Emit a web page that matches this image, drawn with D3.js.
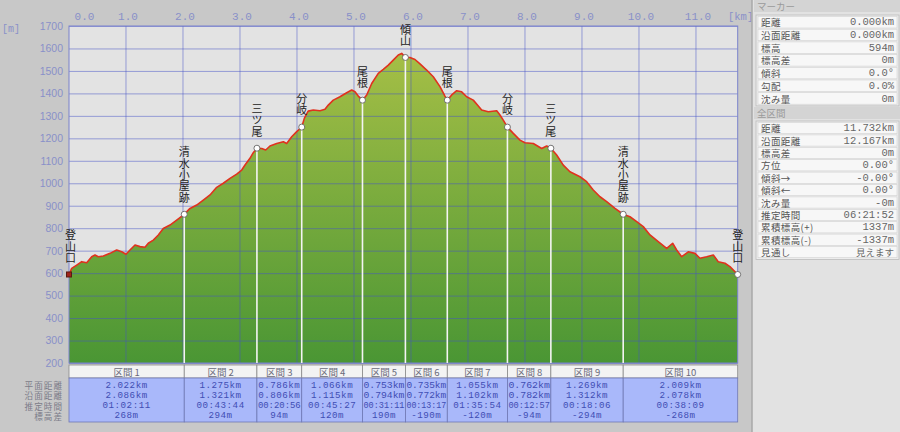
<!DOCTYPE html>
<html><head><meta charset="utf-8">
<script src="https://cdn.jsdelivr.net/npm/d3@7"></script>
<style>html,body{margin:0;padding:0;background:#c8c8c8;overflow:hidden}</style>
</head><body><svg id="c" width="900" height="432"></svg>
<script>
// ---- data ----
const profileKm = [0.000,0.047,0.135,0.223,0.311,0.398,0.456,0.514,0.602,0.719,0.837,0.925,1.000,1.070,1.158,1.246,1.333,1.391,1.479,1.567,1.654,1.772,1.889,2.022,2.123,2.240,2.356,2.474,2.591,2.707,2.825,2.942,3.030,3.088,3.175,3.233,3.297,3.381,3.451,3.526,3.644,3.760,3.819,3.907,3.995,4.083,4.130,4.196,4.286,4.404,4.491,4.549,4.637,4.754,4.872,4.960,5.018,5.075,5.149,5.223,5.311,5.426,5.514,5.602,5.689,5.777,5.837,5.902,5.982,6.070,6.158,6.275,6.391,6.509,6.596,6.637,6.714,6.802,6.889,6.977,7.093,7.181,7.240,7.356,7.504,7.561,7.619,7.692,7.795,7.912,8.000,8.146,8.293,8.381,8.454,8.556,8.672,8.789,8.965,9.082,9.198,9.316,9.433,9.579,9.723,9.842,9.960,10.075,10.193,10.338,10.486,10.591,10.661,10.749,10.865,10.982,11.070,11.188,11.304,11.391,11.509,11.596,11.732];
const profileElev = [594,621,636,651,646,673,681,673,676,688,703,695,684,703,725,718,715,733,747,770,799,814,836,862,888,903,925,948,982,1000,1022,1041,1059,1081,1111,1136,1156,1155,1148,1166,1177,1185,1177,1207,1230,1250,1290,1321,1326,1323,1329,1348,1370,1385,1403,1415,1407,1388,1370,1393,1444,1489,1507,1526,1548,1571,1578,1560,1560,1551,1531,1504,1474,1430,1388,1370,1393,1412,1407,1385,1370,1344,1326,1318,1323,1304,1281,1250,1222,1192,1180,1177,1155,1166,1156,1126,1081,1051,1029,1007,970,940,918,888,862,851,829,807,770,740,710,733,703,673,695,688,666,673,681,651,644,629,594];

const wpNames = ["登山口","清水小屋跡","三ツ尾","分岐","尾根","傾山","尾根","分岐","三ツ尾","清水小屋跡","登山口"];
const wpKm = [0,2.022,3.297,4.083,5.149,5.902,6.637,7.692,8.454,9.723,11.732];
const wpElev = [594,862,1156,1250,1370,1560,1370,1250,1156,862,594];

const xTicks = [0,1,2,3,4,5,6,7,8,9,10,11];
const yTicks = [200,300,400,500,600,700,800,900,1000,1100,1200,1300,1400,1500,1600,1700];

const segLabels = ["区間 1","区間 2","区間 3","区間 4","区間 5","区間 6","区間 7","区間 8","区間 9","区間 10"];
const segFlat = ["2.022km","1.275km","0.786km","1.066km","0.753km","0.735km","1.055km","0.762km","1.269km","2.009km"];
const segSurface = ["2.086km","1.321km","0.806km","1.115km","0.794km","0.772km","1.102km","0.782km","1.312km","2.078km"];
const segTime = ["01:02:11","00:43:44","00:20:56","00:45:27","00:31:11","00:13:17","01:35:54","00:12:57","00:18:06","00:38:09"];
const segDiff = ["268m","294m","94m","120m","190m","-190m","-120m","-94m","-294m","-268m"];
const tableRowLabels = ["平面距離","沿面距離","推定時間","標高差"];

const markerLabels = ["距離","沿面距離","標高","標高差","傾斜","勾配","沈み量"];
const markerValues = ["0.000km","0.000km","594m","0m","0.0°","0.0%","0m"];
const totalLabels = ["距離","沿面距離","標高差","方位","傾斜→","傾斜←","沈み量","推定時間","累積標高(+)","累積標高(-)","見通し"];
const totalValues = ["11.732km","12.167km","0m","0.00°","-0.00°","0.00°","-0m","06:21:52","1337m","-1337m","見えます"];

// ---- drawing ----
const svg = d3.select("#c");
const JP = "'Noto Sans CJK JP','Noto Sans',sans-serif";
const MONO = "'Liberation Mono','DejaVu Sans Mono',monospace";
const axisCol = "#8890c9";

svg.append("rect").attr("width",900).attr("height",432).attr("fill","#c8c8c8");

const x = d3.scaleLinear().domain([0,11.732]).range([69,737.7]);
const y = d3.scaleLinear().domain([200,1700]).range([363,26]);
const [x0,x1] = x.range(), [yb,yt] = y.range();

const defs = svg.append("defs");
const grad = defs.append("linearGradient").attr("id","g").attr("gradientUnits","userSpaceOnUse")
  .attr("x1",0).attr("x2",0).attr("y1",50).attr("y2",363);
grad.append("stop").attr("offset",0).attr("stop-color","#a6bf46");
grad.append("stop").attr("offset",1).attr("stop-color","#4a9634");

// plot bg
svg.append("rect").attr("x",x0).attr("y",yt).attr("width",x1-x0).attr("height",yb-yt).attr("fill","#e3e3e3");

const pts = profileKm.map((k,i)=>[k,profileElev[i]]);
svg.append("path").datum(pts)
  .attr("d",d3.area().x(d=>x(d[0])).y0(yb).y1(d=>y(d[1])))
  .attr("fill","url(#g)");

// grid
const grid = svg.append("g").attr("stroke","rgba(70,84,200,0.5)").attr("stroke-width",1);
yTicks.forEach(v=>grid.append("line").attr("x1",x0).attr("x2",x1).attr("y1",y(v)+0.5).attr("y2",y(v)+0.5));
xTicks.filter(v=>v>0).forEach(v=>grid.append("line").attr("y1",yt).attr("y2",yb).attr("x1",x(v)).attr("x2",x(v)));

// profile line
svg.append("path").datum(pts)
  .attr("d",d3.line().x(d=>x(d[0])).y(d=>y(d[1])))
  .attr("fill","none").attr("stroke","#e0321e").attr("stroke-width",1.6).attr("stroke-linejoin","round");

// border
svg.append("rect").attr("x",x0).attr("y",yt).attr("width",x1-x0).attr("height",yb-yt)
  .attr("fill","none").attr("stroke","#7a82cc").attr("stroke-width",1);

// waypoint lines
wpKm.forEach((k,i)=>{
  if(i>0 && i<wpKm.length-1)
    svg.append("line").attr("x1",x(k)).attr("x2",x(k)).attr("y1",y(wpElev[i])).attr("y2",yb)
      .attr("stroke","#f4f4f4").attr("stroke-width",1.6);
});
wpKm.forEach((k,i)=>{
  if(i===0){
    svg.append("rect").attr("x",x(k)-2.5).attr("y",y(wpElev[i])-2.5).attr("width",5).attr("height",5)
      .attr("fill","#a0241a").attr("stroke","#5a1a10");
  } else {
    svg.append("circle").attr("cx",x(k)).attr("cy",y(wpElev[i])).attr("r",3)
      .attr("fill","#fff").attr("stroke","#555").attr("stroke-width",0.8);
  }
  const lx = x(k) + (i===0?1.5:0);
  svg.append("text").attr("x",lx).attr("y",y(wpElev[i]) - 11)
    .attr("text-anchor","end").style("writing-mode","vertical-rl")
    .attr("font-family",JP).attr("font-size",11).attr("letter-spacing",0.3).attr("fill","#222").text(wpNames[i]);
});

// axes
const gx = svg.append("g").attr("transform",`translate(0,${yt})`)
  .call(d3.axisTop(x).tickValues(xTicks).tickFormat(d=>d.toFixed(1)).tickSize(0).tickPadding(6));
gx.select(".domain").remove();
gx.selectAll("text").attr("font-family",MONO).attr("font-size",11).attr("fill",axisCol);
gx.selectAll(".tick").filter(d=>d===0).select("text").attr("dx",15);
gx.selectAll(".tick").filter(d=>d>0).select("text").attr("dx",1.5);

const gy = svg.append("g").attr("transform",`translate(${x0},0)`)
  .call(d3.axisLeft(y).tickValues(yTicks).tickFormat(d3.format("d")).tickSize(0).tickPadding(6));
gy.select(".domain").remove();
gy.selectAll("text").attr("font-family","'Liberation Sans',Arial,sans-serif").attr("font-size",10.5).attr("fill",axisCol);

svg.append("text").attr("x",2).attr("y",32).attr("font-family",MONO).attr("font-size",10).attr("fill",axisCol).text("[m]");
svg.append("text").attr("x",728).attr("y",20).attr("font-family",MONO).attr("font-size",10.5).attr("fill",axisCol).text("[km]");

// bottom table
const hY0 = 365, hY1 = 378, dY1 = 422;
const FS = 9.2, CW = FS*0.6 + 0.5;
const segBounds = wpKm.slice(0,-1).map((k,i)=>[k,wpKm[i+1]]);
segBounds.forEach((b,i)=>{
  const a = x(b[0]), c = x(b[1]);
  svg.append("rect").attr("x",a).attr("y",hY0).attr("width",c-a).attr("height",hY1-hY0)
    .attr("fill","#f3f3f3").attr("stroke","#8a8a8a").attr("stroke-width",0.8);
  svg.append("text").attr("x",(a+c)/2).attr("y",(hY0+hY1)/2+0.5).attr("text-anchor","middle")
    .attr("dominant-baseline","central").attr("font-family",JP).attr("font-size",9.5).attr("fill","#6a6a7a").text(segLabels[i]);
  svg.append("rect").attr("x",a).attr("y",hY1).attr("width",c-a).attr("height",dY1-hY1)
    .attr("fill","#a9b8fa").attr("stroke","#6f78b4").attr("stroke-width",0.8);
  [segFlat[i],segSurface[i],segTime[i],segDiff[i]].forEach((t,j)=>{
    const tw = t.length*CW, avail = c-a-2;
    const tx = svg.append("text").attr("x",(a+c)/2).attr("y",385+j*10.3).attr("text-anchor","middle")
      .attr("dominant-baseline","central").attr("font-family",MONO).attr("font-size",FS)
      .attr("letter-spacing",0.5).attr("fill","#3f4db4").text(t);
    if(tw > avail) tx.attr("letter-spacing",0).attr("textLength",avail).attr("lengthAdjust","spacingAndGlyphs");
  });
});
tableRowLabels.forEach((t,j)=>{
  svg.append("text").attr("x",63).attr("y",385+j*10.3).attr("text-anchor","end")
    .attr("dominant-baseline","central").attr("font-family",JP).attr("font-size",8.6)
    .attr("letter-spacing",1).attr("fill","#7c7c88").text(t);
});

// right panel
svg.append("rect").attr("x",752).attr("y",0).attr("width",148).attr("height",432).attr("fill","#e2e2e2");
svg.append("line").attr("x1",752).attr("x2",752).attr("y1",0).attr("y2",432).attr("stroke","#a9a9a9").attr("stroke-width",1.5);

function section(title, ty, labels, values, top, rh){
  svg.append("rect").attr("x",754).attr("y",ty-6).attr("width",146).attr("height",12).attr("fill","#d4d4d4");
  svg.append("text").attr("x",757).attr("y",ty).attr("dominant-baseline","central")
    .attr("font-family",JP).attr("font-size",9.5).attr("fill","#9a9a9a").text(title);
  svg.append("rect").attr("x",756).attr("y",top).attr("width",143).attr("height",rh*labels.length+2)
    .attr("fill","#ececec").attr("stroke","#bcbcbc").attr("stroke-width",0.8);
  labels.forEach((l,i)=>{
    const ry = top+1+i*rh;
    svg.append("rect").attr("x",758).attr("y",ry+0.5).attr("width",139).attr("height",rh-1.2)
      .attr("fill","#f7f7f7").attr("stroke","#d2d2d2").attr("stroke-width",0.6);
    svg.append("text").attr("x",761).attr("y",ry+rh/2).attr("dominant-baseline","central")
      .attr("font-family",JP).attr("font-size",9.5).attr("letter-spacing",0.4).attr("fill","#555").text(l);
    svg.append("text").attr("x",894).attr("y",ry+rh/2).attr("text-anchor","end").attr("dominant-baseline","central")
      .attr("font-family",/^[\x00-\x7F°]+$/.test(values[i])?MONO:JP).attr("font-size",/^[\x00-\x7F°]+$/.test(values[i])?10.5:9.5).attr("fill","#666").text(values[i]);
  });
}
section("マーカー",6,markerLabels,markerValues,15,12.7);
section("全区間",113,totalLabels,totalValues,121,12.4);
</script></body></html>
